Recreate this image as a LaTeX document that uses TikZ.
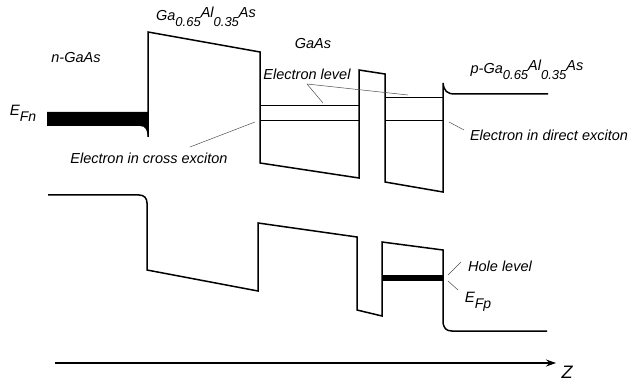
\documentclass[tikz,border=0pt]{standalone}
\usepackage{fontspec}
\setmainfont{Liberation Sans}
\usetikzlibrary{arrows.meta}
\newcommand\lowsub[1]{\raisebox{-6.5pt}{\fontsize{13}{14}\selectfont #1}}
\newcommand\upsup[1]{\raisebox{2.5pt}{#1}}
\tikzset{
  band/.style={line width=1.5pt, line join=miter},
  lvl/.style={line width=0.8pt},
  leader/.style={line width=0.5pt, draw=black!70},
  lbl/.style={font=\fontsize{14.5}{16}\selectfont\itshape, inner sep=0pt, anchor=center},
  efermi/.style={lbl, font=\fontsize{15}{17}\selectfont\itshape},
}
\begin{document}
\begin{tikzpicture}[x=1pt,y=-1pt]
\useasboundingbox (0,0) rectangle (628,387);
% conduction band
\draw[band] (148,137) -- (148,32) -- (260,52) -- (260,163) -- (359,178) -- (359,70) -- (385,74) -- (385,182) -- (443,192) -- (443,83) .. controls (444,91) and (447,94) .. (455,94) -- (548,94);
% EFn bar
\fill (47,112) -- (148,112) -- (148,137) .. controls (147,130) and (146,126) .. (140,126) -- (47,126) -- cycle;
% electron levels
\draw[lvl] (260,105) -- (359,105);
\draw[lvl] (260,120) -- (359,120);
\draw[lvl] (385,97) -- (443,97);
\draw[lvl] (385,120) -- (443,120);
% valence band
\draw[band] (48,195) -- (139,195) .. controls (144,195) and (147,198) .. (147,203) -- (147,270) -- (258,291) -- (258,223) -- (357,237) -- (357,310) -- (382,316) -- (382,242) -- (443,250) -- (443,323) .. controls (444,328) and (446,331) .. (452,331) -- (547,331);
% hole level bar
\fill (382,275) rectangle (443,281);
% axis
\draw[line width=1.2pt, -{Stealth[length=10pt,width=7pt]}] (55,363) -- (556,363);
% labels
\node[lbl] (nGaAs) at (76,58) {n-GaAs};
\node[lbl] (barrier) at (206,17) {Ga\lowsub{0.65}\upsup{Al}\lowsub{0.35}\upsup{As}};
\node[lbl] (GaAs) at (313,44) {GaAs};
\node[lbl] (elevel) at (307,74) {Electron level};
\node[lbl] (pside) at (527,70) {p-Ga\lowsub{0.65}\upsup{Al}\lowsub{0.35}\upsup{As}};
\node[lbl] (cross) at (149,158) {Electron in cross exciton};
\node[lbl] (direct) at (549,135) {Electron in direct exciton};
\node[lbl] (hole) at (500,266) {Hole level};
\node[efermi] (efn) at (23,113) {E\raisebox{-6pt}{\fontsize{14}{15}\selectfont Fn}};
\node[efermi] (efp) at (478,302) {E\raisebox{-6pt}{\fontsize{14}{15}\selectfont Fp}};
\node[lbl, font=\fontsize{18}{20}\selectfont\itshape] (zlab) at (567,372) {Z};
% leader ends
\coordinate (el0) at (307,84);
\coordinate (el1) at (323,103);
\coordinate (el2) at (408,95);
\coordinate (cx0) at (190,147);
\coordinate (cx1) at (255,122);
\coordinate (dx0) at (464,130);
\coordinate (dx1) at (449,122);
\coordinate (hl0) at (461,262);
\coordinate (hl1) at (448,275);
\coordinate (fp0) at (458,290);
\coordinate (fp1) at (448,281);
\draw[leader] (el0) -- (el1);
\draw[leader] (el0) -- (el2);
\draw[leader] (cx0) -- (cx1);
\draw[leader] (dx0) -- (dx1);
\draw[leader] (hl0) -- (hl1);
\draw[leader] (fp0) -- (fp1);
\end{tikzpicture}
\end{document}
